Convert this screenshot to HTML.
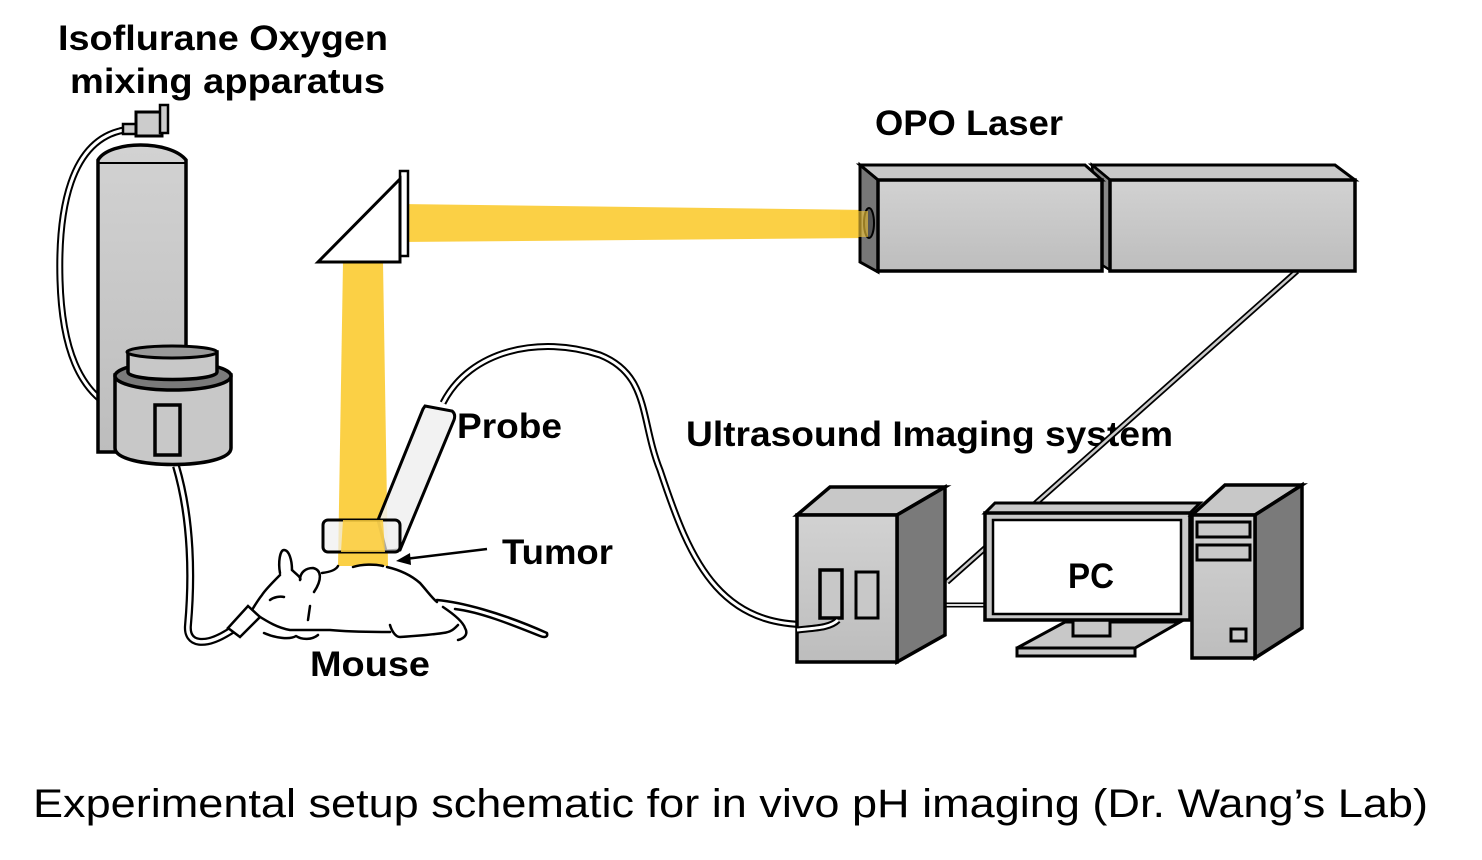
<!DOCTYPE html>
<html><head><meta charset="utf-8"><style>
html,body{margin:0;padding:0;background:#fff;}
svg{display:block;}
text{font-family:"Liberation Sans",sans-serif;}
</style></head><body>
<svg width="1482" height="860" viewBox="0 0 1482 860" xmlns="http://www.w3.org/2000/svg">
<defs>
<linearGradient id="g" x1="0" y1="0" x2="0" y2="1"><stop offset="0" stop-color="#d2d2d2"/><stop offset="1" stop-color="#bdbdbd"/></linearGradient>
</defs>
<rect width="1482" height="860" fill="#fff"/>

<g font-weight="bold" font-size="35" fill="#000">
<text x="58" y="50" textLength="330" lengthAdjust="spacingAndGlyphs">Isoflurane Oxygen</text>
<text x="70" y="93" textLength="315" lengthAdjust="spacingAndGlyphs">mixing apparatus</text>
<text x="875" y="135" textLength="188" lengthAdjust="spacingAndGlyphs">OPO Laser</text>
<text x="457" y="438" textLength="105" lengthAdjust="spacingAndGlyphs">Probe</text>
<text x="686" y="446" textLength="487" lengthAdjust="spacingAndGlyphs">Ultrasound Imaging system</text>
<text x="502" y="564" textLength="111" lengthAdjust="spacingAndGlyphs">Tumor</text>
<text x="310" y="676" textLength="120" lengthAdjust="spacingAndGlyphs">Mouse</text>
</g>
<text x="33" y="817" font-size="40" fill="#000" textLength="1395" lengthAdjust="spacingAndGlyphs">Experimental setup schematic for in vivo pH imaging (Dr. Wang’s Lab)</text>

<path d="M124,130 C70,140 58,210 60,280 C62,350 80,390 113,408" fill="none" stroke="#000" stroke-width="7"/>
<path d="M124,130 C70,140 58,210 60,280 C62,350 80,390 113,408" fill="none" stroke="#fff" stroke-width="3"/>

<path d="M98,452 L98,160 C110,140 170,140 186,160 L186,452 Z" fill="url(#g)" stroke="#000" stroke-width="3.5"/>
<line x1="98" y1="163" x2="186" y2="163" stroke="#000" stroke-width="2"/>
<rect x="123" y="124" width="14" height="10" fill="#ccc" stroke="#000" stroke-width="2.5"/>
<rect x="136" y="112" width="26" height="24" fill="#ccc" stroke="#000" stroke-width="3"/>
<rect x="160" y="105" width="8" height="28" fill="#ccc" stroke="#000" stroke-width="2.5"/>

<path d="M176,466 C192,520 192,580 188,625 C186,645 205,648 232,630 L252,616" fill="none" stroke="#000" stroke-width="8"/>
<path d="M176,466 C192,520 192,580 188,625 C186,645 205,648 232,630 L252,616" fill="none" stroke="#fff" stroke-width="3.5"/>

<path d="M115,375 L115,448 C115,470 231,470 231,448 L231,375 Z" fill="#c8c8c8" stroke="#000" stroke-width="3.5"/>
<ellipse cx="173" cy="376" rx="58" ry="14" fill="#7a7a7a" stroke="#000" stroke-width="3.5"/>
<path d="M128,352 L128,372 C128,382 217,382 217,372 L217,352 Z" fill="#c8c8c8" stroke="#000" stroke-width="3.5"/>
<ellipse cx="172" cy="352" rx="45" ry="6" fill="#999" stroke="#000" stroke-width="3"/>
<rect x="155" y="405" width="25" height="50" fill="#c8c8c8" stroke="#000" stroke-width="3.5"/>

<polygon points="400,204 870,210 870,238 400,242" fill="#fbcd3b" opacity="0.95"/>
<polygon points="343,262 383,262 388,566 338,566" fill="#fbcd3b" opacity="0.95"/>

<rect x="400" y="171" width="8" height="85" fill="#fff" stroke="#000" stroke-width="2.5"/>
<polygon points="318,262 400,179 400,262" fill="#fff" stroke="#000" stroke-width="3"/>

<path d="M443,403 C470,350 540,335 600,355 C650,375 640,420 660,470 C690,560 720,640 838,622" fill="none" stroke="#000" stroke-width="7"/>
<path d="M443,403 C470,350 540,335 600,355 C650,375 640,420 660,470 C690,560 720,640 838,622" fill="none" stroke="#fff" stroke-width="3"/>

<path d="M425,406 L452,411 Q456,414 454,420 L400,550 L386,551 L378,520 L423,409 Z" fill="#f0f0f0" fill-opacity="0.85" stroke="#000" stroke-width="3"/>
<rect x="323" y="520" width="77" height="32" rx="5" fill="#f0f0f0" fill-opacity="0.7" stroke="#000" stroke-width="3"/>
<polygon points="343,520 383,520 385,552 341,552" fill="#fbcd3b" opacity="0.85"/>

<line x1="487" y1="549" x2="405" y2="559" stroke="#000" stroke-width="2.5"/>
<polygon points="396,561 410,553 411,565" fill="#000"/>

<!-- Mouse -->
<g fill="none" stroke="#000" stroke-width="2.5" stroke-linecap="round" stroke-linejoin="round">
<path d="M280,573 C278,562 280,550 284,550 C289,550 292,560 292,570"/>
<path d="M292,570 C296,574 302,578 300,580 C300,572 306,568 313,568 C322,570 322,580 314,592"/>
<path d="M322,573 C330,572 336,570 338,566 M353,567 C362,564 375,564 383,566"/>
<path d="M387,567 C400,570 412,576 420,583 C428,592 432,598 437,602"/>
<path d="M280,575 C272,583 265,590 262,595 C258,600 255,605 252,610"/>
<path d="M437,600 C460,602 500,612 547,633 C548,637 545,638 540,636 C510,624 480,612 455,609"/>
<path d="M443,607 C455,615 463,622 465,628 C468,633 466,638 458,640"/>
<path d="M390,625 C392,632 396,637 400,637 C415,636 430,635 443,633 C452,632 455,628 458,625"/>
<path d="M257,615 C268,622 278,628 290,630 C305,630 318,630 330,630 C350,632 370,632 390,632"/>
<path d="M264,633 C275,638 290,640 296,636 C302,640 312,640 318,635"/>
<path d="M270,600 C274,597 280,596 284,597"/>
<path d="M310,606 L308,620"/>
</g>
<path d="M228,628 L248,606 L260,617 L240,637 Z" fill="#fff" stroke="#000" stroke-width="2.5"/>

<line x1="1297" y1="271" x2="947" y2="582" stroke="#000" stroke-width="6"/>
<line x1="1297" y1="271" x2="947" y2="582" stroke="#ccc" stroke-width="2.5"/>
<line x1="945" y1="605" x2="987" y2="605" stroke="#000" stroke-width="5"/>
<line x1="945" y1="605" x2="987" y2="605" stroke="#ddd" stroke-width="2"/>

<polygon points="1092,165 1335,165 1355,180 1110,180" fill="#c8c8c8" stroke="#000" stroke-width="3"/>
<polygon points="1092,165 1110,180 1110,270 1102,265" fill="#888" stroke="#000" stroke-width="2.5"/>
<rect x="1110" y="180" width="245" height="91" fill="url(#g)" stroke="#000" stroke-width="3.5"/>
<polygon points="860,165 1085,165 1102,180 878,180" fill="#c8c8c8" stroke="#000" stroke-width="3"/>
<polygon points="860,165 878,180 878,272 860,262" fill="#777" stroke="#000" stroke-width="3"/>
<rect x="878" y="180" width="224" height="91" fill="url(#g)" stroke="#000" stroke-width="3.5"/>
<ellipse cx="869" cy="223" rx="5" ry="15" fill="#555" stroke="#000" stroke-width="2"/>
<polygon points="840,211 868,211 868,237 840,237" fill="#fbcd3b" opacity="0.6"/>

<polygon points="797,515 830,487 945,487 897,515" fill="#c8c8c8" stroke="#000" stroke-width="3.5"/>
<polygon points="897,515 945,487 945,635 897,662" fill="#7a7a7a" stroke="#000" stroke-width="3.5"/>
<rect x="797" y="515" width="100" height="147" fill="url(#g)" stroke="#000" stroke-width="3.5"/>
<rect x="820" y="570" width="22" height="48" fill="#c8c8c8" stroke="#000" stroke-width="3.5"/>
<rect x="856" y="572" width="22" height="46" fill="#c8c8c8" stroke="#000" stroke-width="3"/>
<path d="M797,630 C815,628 830,628 838,620" fill="none" stroke="#000" stroke-width="7"/>
<path d="M797,630 C815,628 830,628 838,620" fill="none" stroke="#fff" stroke-width="3"/>

<polygon points="1017,648 1135,648 1180,622 1065,622" fill="#c8c8c8" stroke="#000" stroke-width="3"/>
<polygon points="1017,648 1135,648 1135,656 1017,656" fill="#c8c8c8" stroke="#000" stroke-width="3"/>
<rect x="1073" y="620" width="37" height="16" fill="#c8c8c8" stroke="#000" stroke-width="3"/>
<polygon points="985,513 995,503 1200,503 1190,513" fill="#c8c8c8" stroke="#000" stroke-width="3"/>
<rect x="985" y="513" width="205" height="107" fill="#c8c8c8" stroke="#000" stroke-width="3.5"/>
<rect x="993" y="520" width="188" height="94" fill="#fff" stroke="#000" stroke-width="2.5"/>
<text x="1068" y="588" font-weight="bold" font-size="35" fill="#000" textLength="46" lengthAdjust="spacingAndGlyphs">PC</text>

<polygon points="1192,515 1225,485 1302,485 1255,515" fill="#c8c8c8" stroke="#000" stroke-width="3.5"/>
<polygon points="1255,515 1302,485 1302,628 1255,658" fill="#7a7a7a" stroke="#000" stroke-width="3.5"/>
<rect x="1192" y="515" width="63" height="143" fill="url(#g)" stroke="#000" stroke-width="3.5"/>
<rect x="1197" y="522" width="53" height="15" fill="#c8c8c8" stroke="#000" stroke-width="3"/>
<rect x="1197" y="545" width="53" height="15" fill="#c8c8c8" stroke="#000" stroke-width="3"/>
<rect x="1231" y="629" width="15" height="12" fill="#c8c8c8" stroke="#000" stroke-width="3"/>
</svg>
</body></html>
